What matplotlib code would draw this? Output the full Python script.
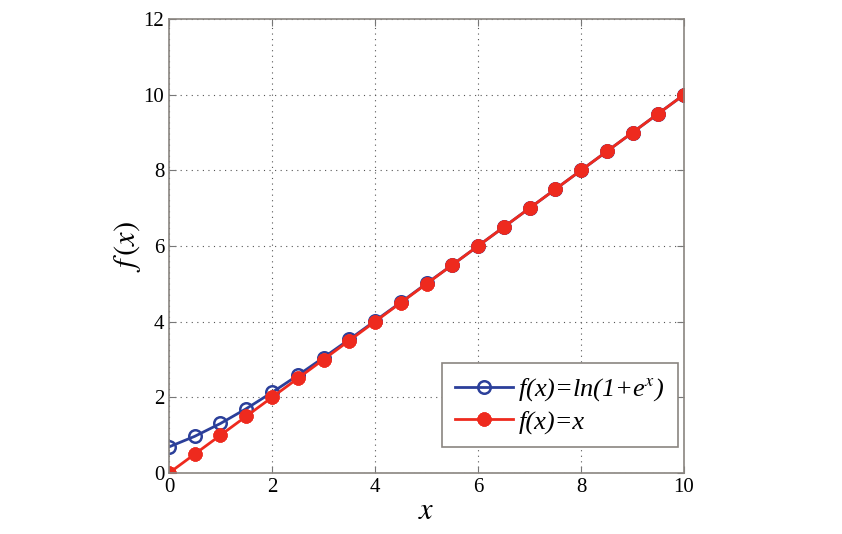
import numpy as np
import matplotlib
matplotlib.use('Agg')
import matplotlib.pyplot as plt

plt.rcParams['font.family'] = ['Liberation Serif', 'DejaVu Serif']
plt.rcParams['mathtext.fontset'] = 'stix'

x_vals = [0, 0.5, 1, 1.5, 2, 2.5, 3, 3.5, 4, 4.5, 5, 5.5, 6, 6.5, 7, 7.5, 8, 8.5, 9, 9.5, 10]
softplus = [0.69, 0.97, 1.31, 1.70, 2.13, 2.58, 3.05, 3.53, 4.02, 4.51, 5.01,
            5.50, 6.00, 6.50, 7.00, 7.50, 8.00, 8.50, 9.00, 9.50, 10.00]
linear = [0, 0.5, 1, 1.5, 2, 2.5, 3, 3.5, 4, 4.5, 5, 5.5, 6, 6.5, 7, 7.5, 8, 8.5, 9, 9.5, 10]

blue = '#2b3f9a'
red = '#ee2a1e'

fig = plt.figure(figsize=(8.42, 5.34), dpi=100)
ax = fig.add_axes([0.2007, 0.1142, 0.6117, 0.8502])

ax.plot(x_vals, softplus, color=blue, lw=2, marker='o', ms=9, mfc='none',
        mec=blue, mew=1.8, label=r'f(x)=ln(1+e$^{x}$)')
ax.plot(x_vals, linear, color=red, lw=2, marker=(8, 2, 0), ms=10,
        mec=red, mew=3.2, label='f(x)=x')

ax.set_xlim(0, 10)
ax.set_ylim(0, 12)
ax.set_xticks([0, 2, 4, 6, 8, 10])
ax.set_yticks([0, 2, 4, 6, 8, 10, 12])
ax.grid(True, linestyle=(0, (1, 4)), color='#555555', lw=0.8)
ax.tick_params(direction='in', labelsize=15, length=5, top=True, right=True,
               color='#777777')
for s in ax.spines.values():
    s.set_color('#8a8580')
    s.set_linewidth(1.2)

ax.set_xlabel(r'$x$', fontsize=22, labelpad=0)
ax.set_ylabel(r'$f\,(x)$', fontsize=22, labelpad=0)

leg = ax.legend(loc='lower right', bbox_to_anchor=(0.988, 0.057),
                borderaxespad=0, prop={'style': 'italic', 'size': 19},
                fancybox=False, framealpha=1, edgecolor='#8a8580',
                handlelength=2.2, handletextpad=0.2, borderpad=0.5,
                labelspacing=0.25)
leg.get_frame().set_linewidth(1.2)

fig.savefig('out.png', dpi=100)
